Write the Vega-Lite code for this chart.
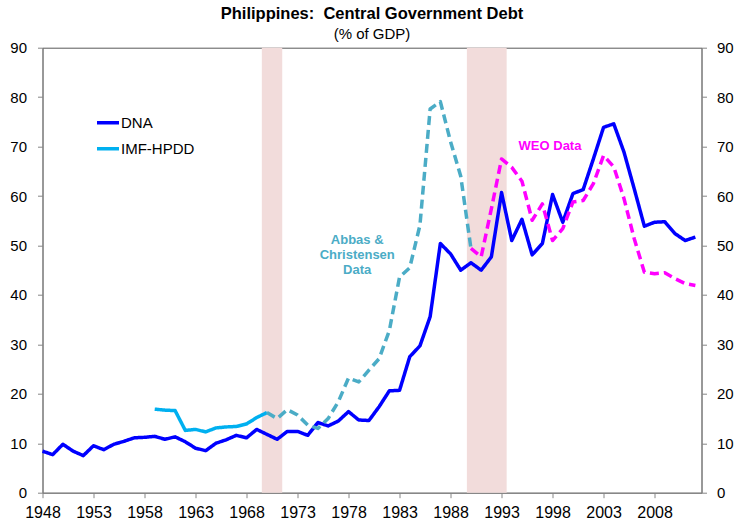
{
  "$schema": "https://vega.github.io/schema/vega-lite/v6.json",
  "width": 659,
  "height": 445,
  "autosize": {"type": "none"},
  "padding": {"left": 42.5, "top": 47.7, "right": 35.5, "bottom": 28.3},
  "background": "white",
  "config": {
    "font": "Liberation Sans",
    "view": {"stroke": "#595959", "strokeWidth": 1},
    "axis": {"grid": false, "domainColor": "#868686", "tickColor": "#868686", "labelColor": "#000000", "titleColor": "#000000"}
  },
  "title": {
    "text": "Philippines:\u00a0 Central Government Debt",
    "subtitle": "(% of GDP)",
    "fontSize": 16.5,
    "fontWeight": "bold",
    "color": "#000000",
    "subtitleFontSize": 15,
    "subtitleColor": "#000000",
    "subtitlePadding": 4,
    "anchor": "middle",
    "offset": -1
  },
  "datasets": {
    "main": [
      {"year": 1948, "value": 8.4, "series": "DNA"},
      {"year": 1949, "value": 7.7, "series": "DNA"},
      {"year": 1950, "value": 9.8, "series": "DNA"},
      {"year": 1951, "value": 8.4, "series": "DNA"},
      {"year": 1952, "value": 7.5, "series": "DNA"},
      {"year": 1953, "value": 9.5, "series": "DNA"},
      {"year": 1954, "value": 8.7, "series": "DNA"},
      {"year": 1955, "value": 9.8, "series": "DNA"},
      {"year": 1956, "value": 10.4, "series": "DNA"},
      {"year": 1957, "value": 11.1, "series": "DNA"},
      {"year": 1958, "value": 11.2, "series": "DNA"},
      {"year": 1959, "value": 11.4, "series": "DNA"},
      {"year": 1960, "value": 10.8, "series": "DNA"},
      {"year": 1961, "value": 11.3, "series": "DNA"},
      {"year": 1962, "value": 10.3, "series": "DNA"},
      {"year": 1963, "value": 9.0, "series": "DNA"},
      {"year": 1964, "value": 8.5, "series": "DNA"},
      {"year": 1965, "value": 10.0, "series": "DNA"},
      {"year": 1966, "value": 10.7, "series": "DNA"},
      {"year": 1967, "value": 11.6, "series": "DNA"},
      {"year": 1968, "value": 11.1, "series": "DNA"},
      {"year": 1969, "value": 12.8, "series": "DNA"},
      {"year": 1970, "value": 11.8, "series": "DNA"},
      {"year": 1971, "value": 10.8, "series": "DNA"},
      {"year": 1972, "value": 12.4, "series": "DNA"},
      {"year": 1973, "value": 12.4, "series": "DNA"},
      {"year": 1974, "value": 11.6, "series": "DNA"},
      {"year": 1975, "value": 14.2, "series": "DNA"},
      {"year": 1976, "value": 13.5, "series": "DNA"},
      {"year": 1977, "value": 14.5, "series": "DNA"},
      {"year": 1978, "value": 16.4, "series": "DNA"},
      {"year": 1979, "value": 14.7, "series": "DNA"},
      {"year": 1980, "value": 14.6, "series": "DNA"},
      {"year": 1981, "value": 17.4, "series": "DNA"},
      {"year": 1982, "value": 20.6, "series": "DNA"},
      {"year": 1983, "value": 20.7, "series": "DNA"},
      {"year": 1984, "value": 27.5, "series": "DNA"},
      {"year": 1985, "value": 29.7, "series": "DNA"},
      {"year": 1986, "value": 35.6, "series": "DNA"},
      {"year": 1987, "value": 50.4, "series": "DNA"},
      {"year": 1988, "value": 48.3, "series": "DNA"},
      {"year": 1989, "value": 45.0, "series": "DNA"},
      {"year": 1990, "value": 46.5, "series": "DNA"},
      {"year": 1991, "value": 45.0, "series": "DNA"},
      {"year": 1992, "value": 47.7, "series": "DNA"},
      {"year": 1993, "value": 60.7, "series": "DNA"},
      {"year": 1994, "value": 51.0, "series": "DNA"},
      {"year": 1995, "value": 55.3, "series": "DNA"},
      {"year": 1996, "value": 48.1, "series": "DNA"},
      {"year": 1997, "value": 50.4, "series": "DNA"},
      {"year": 1998, "value": 60.3, "series": "DNA"},
      {"year": 1999, "value": 54.7, "series": "DNA"},
      {"year": 2000, "value": 60.5, "series": "DNA"},
      {"year": 2001, "value": 61.3, "series": "DNA"},
      {"year": 2002, "value": 67.5, "series": "DNA"},
      {"year": 2003, "value": 73.9, "series": "DNA"},
      {"year": 2004, "value": 74.6, "series": "DNA"},
      {"year": 2005, "value": 68.9, "series": "DNA"},
      {"year": 2006, "value": 61.5, "series": "DNA"},
      {"year": 2007, "value": 53.9, "series": "DNA"},
      {"year": 2008, "value": 54.7, "series": "DNA"},
      {"year": 2009, "value": 54.8, "series": "DNA"},
      {"year": 2010, "value": 52.4, "series": "DNA"},
      {"year": 2011, "value": 51.0, "series": "DNA"},
      {"year": 2012, "value": 51.7, "series": "DNA"},
      {"year": 1959, "value": 16.9, "series": "IMF-HPDD"},
      {"year": 1960, "value": 16.7, "series": "IMF-HPDD"},
      {"year": 1961, "value": 16.6, "series": "IMF-HPDD"},
      {"year": 1962, "value": 12.6, "series": "IMF-HPDD"},
      {"year": 1963, "value": 12.8, "series": "IMF-HPDD"},
      {"year": 1964, "value": 12.3, "series": "IMF-HPDD"},
      {"year": 1965, "value": 13.1, "series": "IMF-HPDD"},
      {"year": 1966, "value": 13.3, "series": "IMF-HPDD"},
      {"year": 1967, "value": 13.4, "series": "IMF-HPDD"},
      {"year": 1968, "value": 13.9, "series": "IMF-HPDD"},
      {"year": 1969, "value": 15.2, "series": "IMF-HPDD"},
      {"year": 1970, "value": 16.2, "series": "IMF-HPDD"},
      {"year": 1970, "value": 16.2, "series": "Abbas & Christensen"},
      {"year": 1971, "value": 15.0, "series": "Abbas & Christensen"},
      {"year": 1972, "value": 16.8, "series": "Abbas & Christensen"},
      {"year": 1973, "value": 15.7, "series": "Abbas & Christensen"},
      {"year": 1974, "value": 13.7, "series": "Abbas & Christensen"},
      {"year": 1975, "value": 13.0, "series": "Abbas & Christensen"},
      {"year": 1976, "value": 15.0, "series": "Abbas & Christensen"},
      {"year": 1977, "value": 18.4, "series": "Abbas & Christensen"},
      {"year": 1978, "value": 23.2, "series": "Abbas & Christensen"},
      {"year": 1979, "value": 22.4, "series": "Abbas & Christensen"},
      {"year": 1980, "value": 24.8, "series": "Abbas & Christensen"},
      {"year": 1981, "value": 27.1, "series": "Abbas & Christensen"},
      {"year": 1982, "value": 32.8, "series": "Abbas & Christensen"},
      {"year": 1983, "value": 43.6, "series": "Abbas & Christensen"},
      {"year": 1984, "value": 45.5, "series": "Abbas & Christensen"},
      {"year": 1985, "value": 54.1, "series": "Abbas & Christensen"},
      {"year": 1986, "value": 77.6, "series": "Abbas & Christensen"},
      {"year": 1987, "value": 79.1, "series": "Abbas & Christensen"},
      {"year": 1988, "value": 71.0, "series": "Abbas & Christensen"},
      {"year": 1989, "value": 64.0, "series": "Abbas & Christensen"},
      {"year": 1990, "value": 49.4, "series": "Abbas & Christensen"},
      {"year": 1990, "value": 49.4, "series": "WEO"},
      {"year": 1991, "value": 47.7, "series": "WEO"},
      {"year": 1992, "value": 57.4, "series": "WEO"},
      {"year": 1993, "value": 67.5, "series": "WEO"},
      {"year": 1994, "value": 65.8, "series": "WEO"},
      {"year": 1995, "value": 63.0, "series": "WEO"},
      {"year": 1996, "value": 55.1, "series": "WEO"},
      {"year": 1997, "value": 58.4, "series": "WEO"},
      {"year": 1998, "value": 51.0, "series": "WEO"},
      {"year": 1999, "value": 53.4, "series": "WEO"},
      {"year": 2000, "value": 58.8, "series": "WEO"},
      {"year": 2001, "value": 59.1, "series": "WEO"},
      {"year": 2002, "value": 62.5, "series": "WEO"},
      {"year": 2003, "value": 68.2, "series": "WEO"},
      {"year": 2004, "value": 65.9, "series": "WEO"},
      {"year": 2005, "value": 59.5, "series": "WEO"},
      {"year": 2006, "value": 51.4, "series": "WEO"},
      {"year": 2007, "value": 44.6, "series": "WEO"},
      {"year": 2008, "value": 44.3, "series": "WEO"},
      {"year": 2009, "value": 44.5, "series": "WEO"},
      {"year": 2010, "value": 43.3, "series": "WEO"},
      {"year": 2011, "value": 42.3, "series": "WEO"},
      {"year": 2012, "value": 41.9, "series": "WEO"}
    ],
    "bands": [
      {"year": 1969.5, "year2": 1971.5},
      {"year": 1989.6, "year2": 1993.5}
    ],
    "notes": [
      {"year": 1978.85, "value": 51.1, "label": "Abbas &\nChristensen\nData", "series": "Abbas & Christensen"},
      {"year": 1997.75, "value": 70.2, "label": "WEO Data", "series": "WEO"}
    ]
  },
  "encoding": {
    "x": {
      "field": "year",
      "type": "quantitative",
      "scale": {"domain": [1948, 2012.6], "nice": false, "zero": false},
      "axis": {
        "title": null,
        "values": [1948, 1953, 1958, 1963, 1968, 1973, 1978, 1983, 1988, 1993, 1998, 2003, 2008],
        "format": "d",
        "labelFontSize": 16,
        "tickSize": 5,
        "labelPadding": 7,
        "labelFlush": false,
        "labelOverlap": false
      }
    }
  },
  "layer": [
    {
      "layer": [
        {
          "data": {"name": "bands"},
          "mark": {"type": "rect", "color": "#F2DCDB"},
          "encoding": {
            "x2": {"field": "year2"},
            "y": {"datum": 0, "type": "quantitative"},
            "y2": {"datum": 90}
          }
        },
        {
          "data": {"name": "main"},
          "mark": {"type": "line", "strokeWidth": 3.5, "strokeJoin": "round"},
          "encoding": {
            "y": {"field": "value", "type": "quantitative"},
            "color": {
              "field": "series",
              "type": "nominal",
              "scale": {"domain": ["DNA", "IMF-HPDD", "Abbas & Christensen", "WEO"], "range": ["#0000FF", "#00B0F0", "#4BACC6", "#FF00FF"]},
              "legend": {
                "values": ["DNA", "IMF-HPDD"],
                "orient": "none",
                "legendX": 52.5,
                "legendY": 62,
                "title": null,
                "padding": 0,
                "symbolType": "stroke",
                "symbolSize": 484,
                "symbolStrokeWidth": 3.5,
                "labelFontSize": 15,
                "labelColor": "#000000",
                "labelOffset": 0,
                "rowPadding": 5
              }
            },
            "strokeDash": {
              "field": "series",
              "type": "nominal",
              "scale": {"domain": ["DNA", "IMF-HPDD", "Abbas & Christensen", "WEO"], "range": [[1, 0], [1, 0], [9, 5], [9, 5]]},
              "legend": null
            }
          }
        },
        {
          "data": {"name": "notes"},
          "transform": [{"filter": "datum.series === 'Abbas & Christensen'"}],
          "mark": {"type": "text", "fontSize": 13, "fontWeight": "bold", "color": "#4BACC6", "lineBreak": "\n", "lineHeight": 15, "align": "center", "baseline": "middle"},
          "encoding": {
            "y": {"field": "value", "type": "quantitative"},
            "text": {"field": "label"}
          }
        },
        {
          "data": {"name": "notes"},
          "transform": [{"filter": "datum.series === 'WEO'"}],
          "mark": {"type": "text", "fontSize": 13, "fontWeight": "bold", "color": "#FF00FF", "align": "center", "baseline": "middle"},
          "encoding": {
            "y": {"field": "value", "type": "quantitative"},
            "text": {"field": "label"}
          }
        }
      ],
      "encoding": {
        "y": {
          "type": "quantitative",
          "scale": {"domain": [0, 90], "nice": false},
          "axis": {"title": null, "orient": "left", "values": [0, 10, 20, 30, 40, 50, 60, 70, 80, 90], "labelFontSize": 15, "tickSize": 5, "labelPadding": 11}
        }
      }
    },
    {
      "data": {"name": "main"},
      "mark": {"type": "point", "opacity": 0},
      "encoding": {
        "y": {
          "field": "value",
          "type": "quantitative",
          "scale": {"domain": [0, 90], "nice": false},
          "axis": {"title": null, "orient": "right", "values": [0, 10, 20, 30, 40, 50, 60, 70, 80, 90], "labelFontSize": 15, "tickSize": 5, "labelPadding": 10}
        }
      }
    }
  ],
  "resolve": {"scale": {"y": "independent"}}
}
